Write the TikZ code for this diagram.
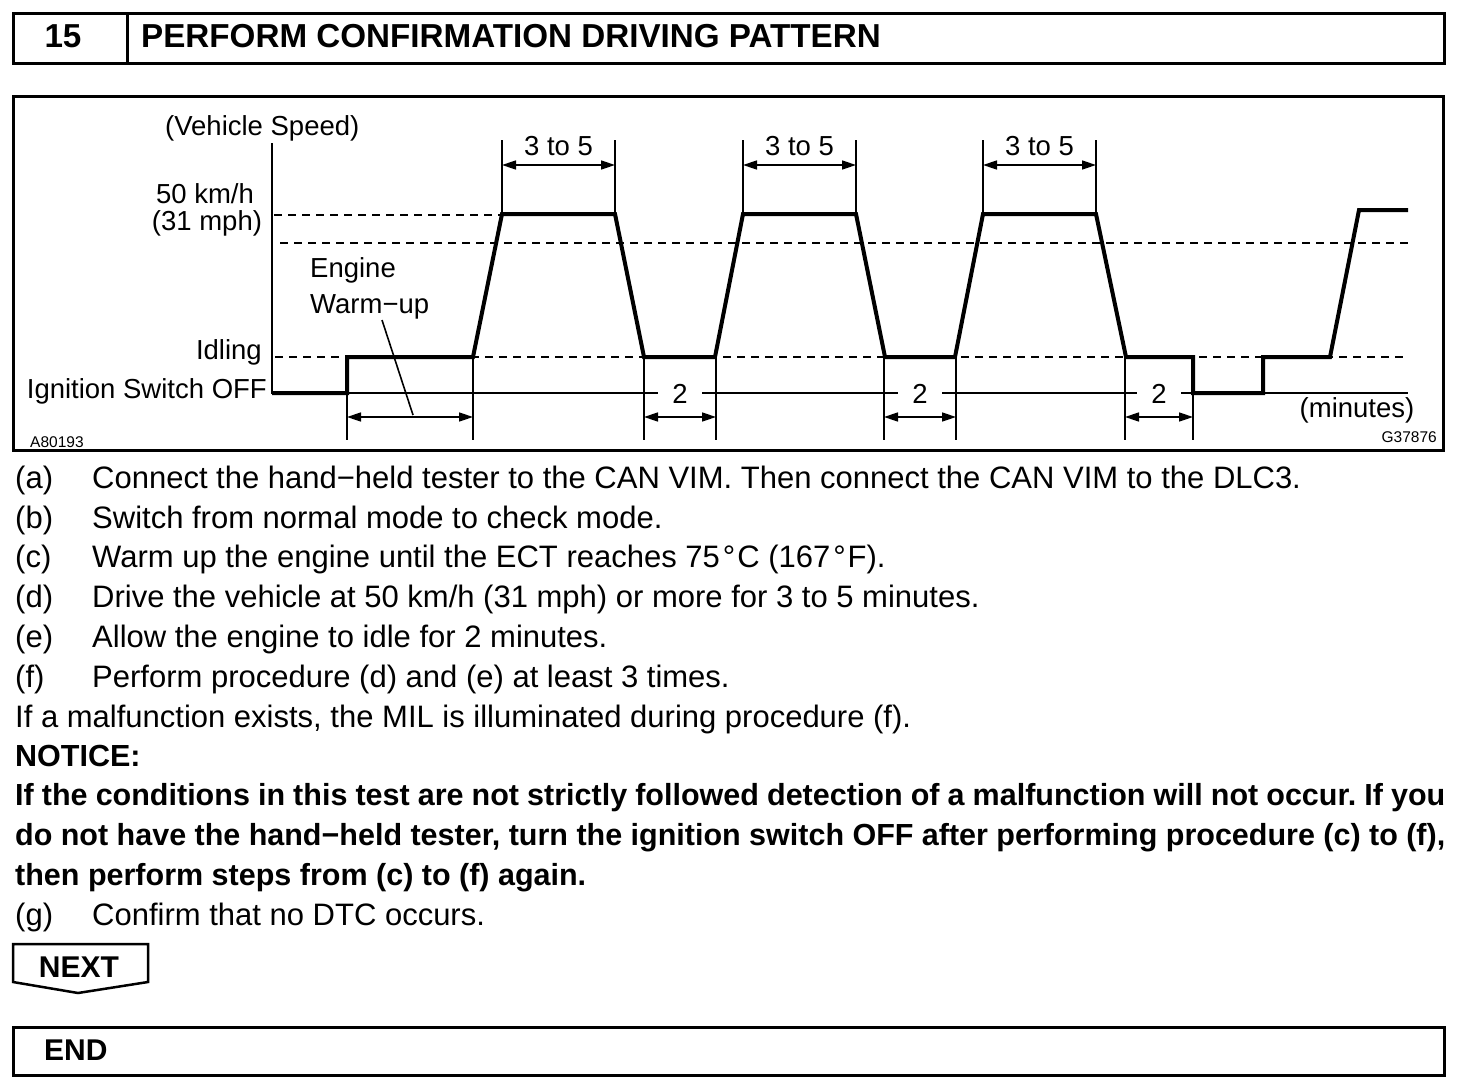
\documentclass[tikz,border=0pt]{standalone}
\usepackage{fontspec}
\setmainfont{Liberation Sans}
\usetikzlibrary{arrows.meta}
\begin{document}
\frenchspacing
\begin{tikzpicture}[x=1pt,y=-1pt,
  frame/.style={line width=3pt},
  curve/.style={line width=4pt, line join=miter},
  thinl/.style={line width=1.6pt},
  dashline/.style={line width=1.6pt, dash pattern=on 8pt off 6pt},
  dim/.style={line width=1.6pt, {Triangle[length=14pt,width=9pt]}-{Triangle[length=14pt,width=9pt]}},
  lbl/.style={font=\fontsize{27.5}{30}\selectfont, inner sep=0pt},
  tinyl/.style={font=\fontsize{15.5}{18}\selectfont, inner sep=0pt},
  body/.style={font=\fontsize{31}{36}\selectfont, inner sep=0pt, anchor=base west},
  bodyb/.style={font=\fontsize{30.5}{36}\selectfont\bfseries, inner sep=0pt, anchor=base west},
  head/.style={font=\fontsize{33.2}{36}\selectfont\bfseries, inner sep=0pt},
  tag/.style={font=\fontsize{30}{36}\selectfont\bfseries, inner sep=0pt},
  gap/.style={lbl, fill=white, inner xsep=14pt, inner ysep=2pt}
]
\useasboundingbox (0,0) rectangle (1472,1090);

% header
\draw[frame] (13,13) rectangle (1444,63);
\draw[frame] (127,13) -- (127,63);
\node[head, anchor=base] (num) at (63,47) {15};
\node[head, anchor=base west] (title) at (141,47) {PERFORM CONFIRMATION DRIVING PATTERN};

% chart frame
\draw[frame] (13,96) rectangle (1443,450);

% axes
\coordinate (ytop) at (272,143);
\coordinate (orig) at (272,393);
\coordinate (xend) at (1408,393);
\draw[thinl] (ytop) -- (orig) -- (xend);

% dashed reference lines
\draw[dashline] (274,215) -- (500,215);
\draw[dashline] (280,243) -- (1408,243);
\draw[dashline] (275,357) -- (1408,357);

% speed pattern
\coordinate (w0) at (347,357); \coordinate (w1) at (473,357);
\coordinate (p1a) at (502,214); \coordinate (p1b) at (615,214);
\coordinate (i1a) at (644,357); \coordinate (i1b) at (715,357);
\coordinate (p2a) at (743,214); \coordinate (p2b) at (856,214);
\coordinate (i2a) at (885,357); \coordinate (i2b) at (955,357);
\coordinate (p3a) at (983,214); \coordinate (p3b) at (1096,214);
\coordinate (i3a) at (1126,357); \coordinate (i3b) at (1193,357);
\draw[curve] (orig) -- (347,393) -- (w0) -- (w1) -- (p1a) -- (p1b) -- (i1a) -- (i1b)
  -- (p2a) -- (p2b) -- (i2a) -- (i2b) -- (p3a) -- (p3b) -- (i3a) -- (i3b)
  -- (1193,393) -- (1263,393) -- (1263,357) -- (1330,357) -- (1359,210) -- (1408,210);

% warm-up dimension
\draw[thinl] (w0) -- (347,440);
\draw[thinl] (w1) -- (473,440);
\draw[dim] (347,417) -- (473,417);

% 3 to 5 dimensions
\foreach \a/\b/\n in {502/615/t1, 743/856/t2, 983/1096/t3}{
  \draw[thinl] (\a,140) -- (\a,214);
  \draw[thinl] (\b,140) -- (\b,214);
  \draw[dim] (\a,165) -- (\b,165);
  \node[lbl, anchor=base] (\n) at ({(\a+\b)/2},155) {3 to 5};
}

% 2 minute dimensions
\foreach \a/\b/\n in {644/716/d1, 884/956/d2, 1125/1193/d3}{
  \draw[thinl] (\a,357) -- (\a,440);
  \draw[thinl] (\b,357) -- (\b,440);
  \draw[dim] (\a,417) -- (\b,417);
  \node[gap] (\n) at ({(\a+\b)/2},394) {2};
}

% labels
\node[lbl, anchor=base west] (vs) at (165,135) {(Vehicle Speed)};
\node[lbl, anchor=base] (kmh) at (205,203) {50 km/h};
\node[lbl, anchor=base] (mph) at (207,230) {(31 mph)};
\node[lbl, anchor=base west] (eng) at (310,277) {Engine};
\node[lbl, anchor=base west] (warm) at (310,313) {Warm−up};
\node[lbl, anchor=base east] (idl) at (262,359) {Idling};
\node[lbl, anchor=base east] (ign) at (267,398) {Ignition Switch OFF};
\node[lbl, anchor=base] (mins) at (1357,417) {(minutes)};
\node[tinyl, anchor=base west] (codeA) at (30,447) {A80193};
\node[tinyl, anchor=base east] (codeG) at (1437,442) {G37876};
\coordinate (ldr) at (382,320);
\draw[thinl] (ldr) -- (413,415);

% steps
\node[body] (la) at (15,488) {(a)};
\node[body] (ta) at (92,488) {Connect the hand−held tester to the CAN VIM. Then connect the CAN VIM to the DLC3.};
\node[body] (lb) at (15,528) {(b)};
\node[body] (tb) at (92,528) {Switch from normal mode to check mode.};
\node[body] (lc) at (15,567) {(c)};
\node[body] (tc) at (92,567) {Warm up the engine until the ECT reaches 75\kern3pt°\kern2pt C (167\kern3pt°\kern2pt F).};
\node[body] (ld) at (15,607) {(d)};
\node[body] (td) at (92,607) {Drive the vehicle at 50 km/h (31 mph) or more for 3 to 5 minutes.};
\node[body] (le) at (15,647) {(e)};
\node[body] (te) at (92,647) {Allow the engine to idle for 2 minutes.};
\node[body] (lf) at (15,687) {(f)};
\node[body] (tf) at (92,687) {Perform procedure (d) and (e) at least 3 times.};
\node[body] (mal) at (15,727) {If a malfunction exists, the MIL is illuminated during procedure (f).};
\node[bodyb] (notice) at (15,766) {NOTICE:};
\node[bodyb] (n1) at (15,805) {\makebox[1430pt][s]{If the conditions in this test are not strictly followed detection of a malfunction will not occur. If you}};
\node[bodyb] (n2) at (15,845) {\makebox[1430pt][s]{do not have the hand−held tester, turn the ignition switch OFF after performing procedure (c) to (f),}};
\node[bodyb] (n3) at (15,885) {then perform steps from (c) to (f) again.};
\node[body] (lg) at (15,925) {(g)};
\node[body] (tg) at (92,925) {Confirm that no DTC occurs.};

% NEXT tag
\draw[line width=2.5pt, line join=miter] (13,944) -- (148,944) -- (148,982) -- (78,993) -- (13,982) -- cycle;
\node[tag, anchor=base] (next) at (79,977) {NEXT};

% END box
\draw[frame] (13,1027) rectangle (1444,1075);
\node[tag, anchor=base west] (endt) at (44,1060) {END};
\end{tikzpicture}
\end{document}
